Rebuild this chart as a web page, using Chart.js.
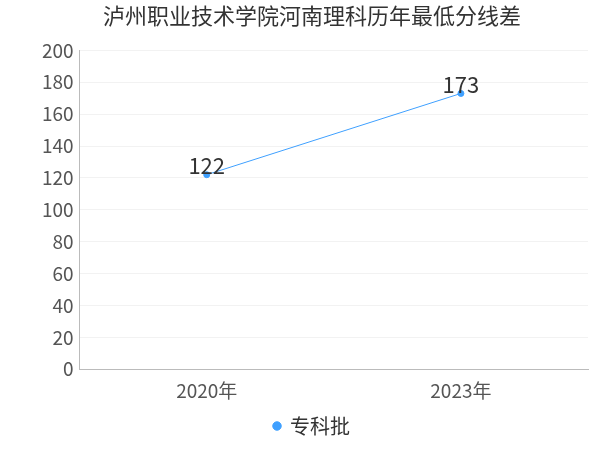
<!DOCTYPE html>
<html>
<head>
<meta charset="utf-8">
<script src="https://cdn.jsdelivr.net/npm/chart.js@4"></script>
<style>
html, body { margin: 0; padding: 0; background: #fff; }
#wrap { width: 600px; height: 450px; }
</style>
</head>
<body>
<div id="wrap"><canvas id="c"></canvas></div>
<script>
// Data
const years = ['2020年', '2023年'];
const scores = [122, 173];
const seriesName = '专科批';
const titleText = '泸州职业技术学院河南理科历年最低分线差';

const FONT = "'Noto Sans CJK SC', 'Noto Sans', sans-serif";

// draw values above points
const valueLabels = {
    id: 'valueLabels',
    afterDatasetsDraw(chart) {
        const ctx = chart.ctx;
        const meta = chart.getDatasetMeta(0);
        ctx.save();
        ctx.font = '22px ' + FONT;
        ctx.fillStyle = '#333';
        ctx.textAlign = 'center';
        ctx.textBaseline = 'bottom';
        meta.data.forEach((pt, i) => {
            ctx.fillText(String(scores[i]), pt.x, pt.y + 2);
        });
        ctx.restore();
    }
};

new Chart(document.getElementById('c'), {
    type: 'line',
    data: {
        labels: years,
        datasets: [{
            label: seriesName,
            data: scores,
            borderColor: '#3fa0ff',
            backgroundColor: '#3fa0ff',
            borderWidth: 1,
            pointRadius: 3,
            pointHoverRadius: 4,
            tension: 0
        }]
    },
    options: {
        responsive: true,
        maintainAspectRatio: false,
        animation: false,
        layout: { padding: { left: 36, right: 12, top: 0, bottom: 4 } },
        scales: {
            x: {
                offset: true,
                grid: { display: false, drawTicks: true, tickLength: 6 },
                border: { color: '#bbb' },
                ticks: { color: '#555', font: { size: 19, family: FONT }, padding: 4 }
            },
            y: {
                min: 0,
                max: 200,
                ticks: { stepSize: 20, color: '#555', font: { size: 19, family: FONT }, padding: 6 },
                grid: { color: '#f2f2f2', drawTicks: false },
                border: { color: '#bbb' }
            }
        },
        plugins: {
            title: {
                display: true,
                text: titleText,
                color: '#333',
                font: { size: 22, family: FONT, weight: 'normal' },
                padding: { top: 2, bottom: 22 }
            },
            legend: {
                position: 'bottom',
                labels: {
                    color: '#333',
                    font: { size: 20, family: FONT },
                    usePointStyle: true,
                    pointStyle: 'circle',
                    boxWidth: 6,
                    boxHeight: 6
                }
            },
            tooltip: { enabled: false }
        }
    },
    plugins: [valueLabels]
});
</script>
</body>
</html>
